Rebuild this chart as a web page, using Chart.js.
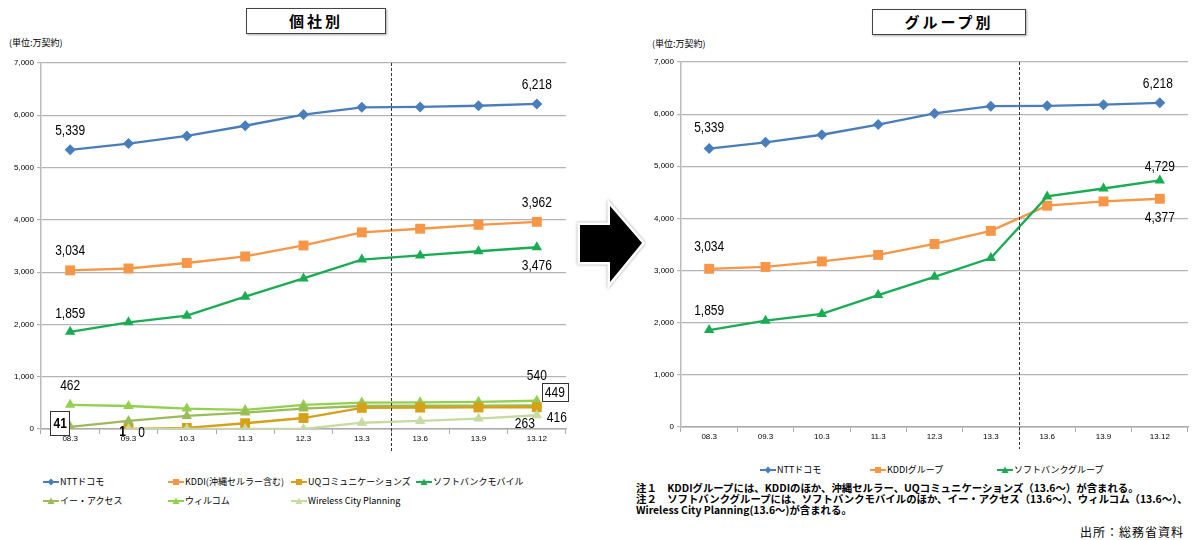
<!DOCTYPE html>
<html><head><meta charset="utf-8">
<script src="https://cdn.jsdelivr.net/npm/chart.js@4.4.1/dist/chart.umd.min.js"></script>
<style>
body{margin:0;width:1195px;height:540px;position:relative;overflow:hidden;background:#fff;font-family:'Noto Sans CJK JP',sans-serif;color:#000;}
.abs{position:absolute;white-space:nowrap;}
.title{border:1px solid #444;box-shadow:1px 1px 2px #aaa;font-weight:bold;font-size:15px;text-align:center;letter-spacing:3px;box-sizing:border-box;}
.unit{font-size:9px;}
.leg{font-size:9px;display:flex;align-items:center;}
.leg svg{margin-right:1px;}
.note{font-size:10.4px;font-weight:bold;line-height:11px;}
</style></head>
<body>
<div class="abs title" style="left:246px;top:8px;width:140px;height:26px;line-height:24px">個社別</div>
<div class="abs title" style="left:872px;top:9px;width:154px;height:26px;line-height:24px">グループ別</div>
<div class="abs unit" style="left:9px;top:36px">(単位:万契約)</div>
<div class="abs unit" style="left:652px;top:37px">(単位:万契約)</div>
<canvas id="c1" class="abs" width="580" height="400" style="left:0;top:55px"></canvas>
<canvas id="c2" class="abs" width="555" height="400" style="left:640px;top:53px"></canvas>
<svg class="abs" style="left:570px;top:190px" width="84" height="102">
  <defs><filter id="sh" x="-20%" y="-20%" width="140%" height="140%"><feDropShadow dx="0" dy="0" stdDeviation="1.5" flood-color="#999"/></filter></defs>
  <polygon points="10,35 40,35 40,16 72,53 40,92 40,72 10,72" fill="#000" stroke="#fff" stroke-width="5" stroke-linejoin="miter" filter="url(#sh)"/>
  <polygon points="10,35 40,35 40,16 72,53 40,92 40,72 10,72" fill="#000"/>
</svg>
<div id="leg1" class="abs"></div>
<div id="leg2" class="abs"></div>
<div class="abs note" style="left:636px;top:482px">注１　KDDIグループには、KDDIのほか、沖縄セルラー、UQコミュニケーションズ（13.6～）が含まれる。<br>注２　ソフトバンクグループには、ソフトバンクモバイルのほか、イー・アクセス（13.6～）、ウィルコム（13.6～）、<br>Wireless City Planning(13.6～)が含まれる。</div>
<div class="abs" style="left:1080px;top:523px;font-size:12px;letter-spacing:1px">出所：総務省資料</div>
<script>
// ---- data ----
const categories = ['08.3','09.3','10.3','11.3','12.3','13.3','13.6','13.9','13.12'];
const yTickValues = [0,1000,2000,3000,4000,5000,6000,7000];
const nttDocomo      = [5339,5460,5605,5800,6013,6152,6160,6182,6218];
const kddi           = [3034,3070,3175,3300,3510,3761,3830,3905,3962];
const uqComm         = [null,1,20,110,210,405,410,412,416];
const softbankMobile = [1859,2040,2168,2530,2880,3240,3320,3400,3476];
const eAccess        = [41,155,250,315,390,440,445,447,449];
const willcom        = [462,440,390,365,460,505,510,520,540];
const wirelessCity   = [null,0,0,0,0,120,155,200,263];
const kddiGroup      = [3034,3070,3175,3300,3510,3761,4244,4326,4377];
const softbankGroup  = [1859,2040,2168,2530,2880,3240,4422,4574,4729];

const NUMFONT = '"Liberation Sans","DejaVu Sans",sans-serif';

function ds(label, data, color, style, radius, valueLabels){
  return {label, data, borderColor:color, backgroundColor:color, pointBackgroundColor:color,
    pointBorderColor:color, pointStyle:style, pointRadius:radius, pointBorderWidth:0,
    borderWidth:2.3, tension:0, spanGaps:false, valueLabels:valueLabels||[]};
}

const dashPlugin = {
  id:'dash',
  afterDatasetsDraw(chart){
    const x = chart.scales.x, a = chart.chartArea, c = chart.ctx;
    const px = (x.getPixelForValue(5)+x.getPixelForValue(6))/2;
    c.save(); c.strokeStyle='#333'; c.lineWidth=1; c.setLineDash([3,2]);
    c.beginPath(); c.moveTo(Math.round(px)+0.5,a.top); c.lineTo(Math.round(px)+0.5,a.bottom+22); c.stroke(); c.restore();
  }
};
const SX = 0.8;
const labelPlugin = {
  id:'valueLabels',
  afterDatasetsDraw(chart){
    const c = chart.ctx;
    chart.data.datasets.forEach((d,di)=>{
      const meta = chart.getDatasetMeta(di);
      d.valueLabels.forEach(l=>{
        const pt = meta.data[l.i]; const v = d.data[l.i];
        const text = v.toLocaleString('en-US');
        c.save();
        c.font = (l.bold?'bold ':'')+'15px '+NUMFONT;
        c.textAlign='center'; c.textBaseline='middle';
        const x = pt.x + (l.dx||0), y = pt.y + (l.dy||0);
        if(l.box){
          const w = c.measureText(text).width*SX;
          const bw = w + 2*l.box[0], bh = 14 + 2*l.box[1];
          c.fillStyle='#fff'; c.fillRect(x-bw/2, y-bh/2, bw, bh);
          c.strokeStyle='#333'; c.lineWidth=1; c.strokeRect(Math.round(x-bw/2)+0.5, Math.round(y-bh/2)+0.5, Math.round(bw), Math.round(bh));
        }
        c.translate(x, y); c.scale(SX, 1);
        c.fillStyle='#000'; c.fillText(text, 0, 1);
        c.restore();
      });
    });
  }
};

function makeChart(id, datasets, padRight, padTop){
  return new Chart(document.getElementById(id), {
    type:'line',
    data:{labels:categories, datasets},
    options:{
      responsive:false, animation:false,
      layout:{padding:{top:padTop,right:padRight,bottom:0,left:0}},
      plugins:{legend:{display:false}, tooltip:{enabled:false}},
      scales:{
        x:{offset:true,
           grid:{display:true, drawOnChartArea:false, drawTicks:true, tickLength:5, offset:true, color:'#aaa'},
           border:{color:'#aaa', width:1.5},
           ticks:{font:{size:8, family:NUMFONT}, color:'#000', padding:0, maxRotation:0, autoSkip:false},
           afterFit(s){ s.height = 26; }},
        y:{min:0, max:7000,
           afterBuildTicks(s){ s.ticks = yTickValues.map(v=>({value:v})); },
           ticks:{callback:v=>v.toLocaleString('en-US'), font:{size:8, family:NUMFONT}, color:'#000', padding:3},
           grid:{color:'#b4b4b4', tickLength:4, lineWidth:1.2},
           border:{color:'#bbb', width:1.5},
           afterFit(s){ s.width = 41; }}
      }
    },
    plugins:[dashPlugin, labelPlugin]
  });
}

const C_NTT='#4a7ebb', C_KDDI='#f79646', C_SB='#19ac52', C_UQ='#d6a019', C_EA='#9bbb59', C_WC='#92d050', C_WCP='#c6dba0';

const left = [
  ds('Wireless City Planning', wirelessCity, C_WCP, 'triangle', 6, [{i:1,dx:13,dy:3},{i:8,dx:-12,dy:8}]),
  ds('UQコミュニケーションズ', uqComm, C_UQ, 'rect', 7, [{i:1,dx:-6,dy:2,bold:true},{i:8,dx:20,dy:10}]),
  ds('イー・アクセス', eAccess, C_EA, 'triangle', 6, [{i:0,dx:-10,dy:-4,bold:true,box:[3,5]},{i:8,dx:18,dy:-14,box:[3,2]}]),
  ds('ウィルコム', willcom, C_WC, 'triangle', 6, [{i:0,dy:-20},{i:8,dy:-26}]),
  ds('ソフトバンクモバイル', softbankMobile, C_SB, 'triangle', 6, [{i:0,dy:-19},{i:8,dy:18}]),
  ds('KDDI(沖縄セルラー含む)', kddi, C_KDDI, 'rect', 7, [{i:0,dy:-21},{i:8,dy:-20}]),
  ds('NTTドコモ', nttDocomo, C_NTT, 'rectRot', 5.5, [{i:0,dy:-20},{i:8,dy:-20}])
];
const right = [
  ds('ソフトバンクグループ', softbankGroup, C_SB, 'triangle', 6, [{i:0,dy:-20},{i:8,dy:-15}]),
  ds('KDDIグループ', kddiGroup, C_KDDI, 'rect', 7, [{i:0,dy:-23},{i:8,dy:18}]),
  ds('NTTドコモ', nttDocomo, C_NTT, 'rectRot', 5.5, [{i:0,dy:-22},{i:8,dx:-2,dy:-20}])
];
makeChart('c1', left, 14, 8);
makeChart('c2', right, 0, 9);

// legends
function sample(color, style){
  let m='';
  if(style==='rectRot') m='<polygon points="8,0.5 11.5,4 8,7.5 4.5,4" fill="'+color+'"/>';
  else if(style==='rect') m='<rect x="5" y="1" width="6" height="6" fill="'+color+'"/>';
  else m='<polygon points="8,0.5 11.5,7 4.5,7" fill="'+color+'"/>';
  return '<svg width="16" height="8"><line x1="0" y1="4" x2="16" y2="4" stroke="'+color+'" stroke-width="2"/>'+m+'</svg>';
}
function legend(id, items){
  const el = document.getElementById(id);
  items.forEach(it=>{
    const d=document.createElement('div'); d.className='abs leg';
    d.style.left=it.x+'px'; d.style.top=it.y+'px';
    d.innerHTML = sample(it.c, it.s)+'<span>'+it.t+'</span>';
    el.appendChild(d);
  });
}
legend('leg1', [
  {t:'NTTドコモ', c:C_NTT, s:'rectRot', x:43, y:475},
  {t:'KDDI(沖縄セルラー含む)', c:C_KDDI, s:'rect', x:168, y:475},
  {t:'UQコミュニケーションズ', c:C_UQ, s:'rect', x:291, y:475},
  {t:'ソフトバンクモバイル', c:C_SB, s:'triangle', x:416, y:475},
  {t:'イー・アクセス', c:C_EA, s:'triangle', x:43, y:494},
  {t:'ウィルコム', c:C_WC, s:'triangle', x:168, y:494},
  {t:'Wireless City Planning', c:C_WCP, s:'triangle', x:291, y:494}
]);
legend('leg2', [
  {t:'NTTドコモ', c:C_NTT, s:'rectRot', x:760, y:463},
  {t:'KDDIグループ', c:C_KDDI, s:'rect', x:870, y:463},
  {t:'ソフトバンクグループ', c:C_SB, s:'triangle', x:997, y:463}
]);
</script>
</body></html>
